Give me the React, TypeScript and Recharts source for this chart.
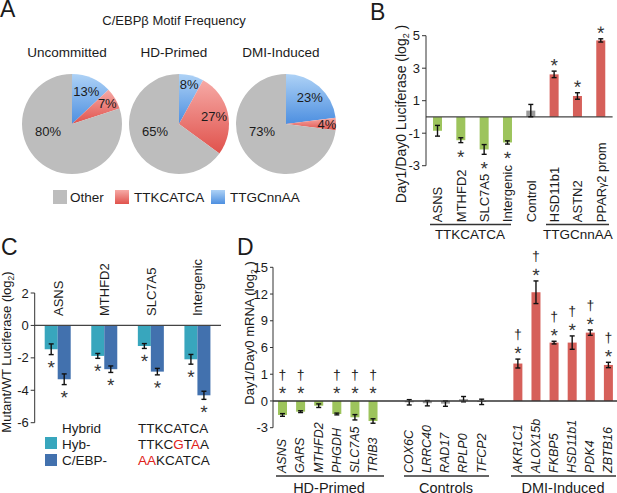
import React from 'react';
import { PieChart, Pie, Cell, BarChart, Bar, XAxis, YAxis, ReferenceLine, ErrorBar } from 'recharts';

const FONT = '"Liberation Sans", Arial, Helvetica, sans-serif';
const INK = '#1b1b1b';

// ---------------- Panel A: C/EBPβ motif frequency ----------------
const pieConditions = ['Uncommitted', 'HD-Primed', 'DMI-Induced'];
const motifNames = ['TTGCnnAA', 'TTKCATCA', 'Other'];
const pctTTGCnnAA = [13, 8, 23];
const pctTTKCATCA = [7, 27, 4];
const pctOther = [80, 65, 73];

// ---------------- Panel B: Day1/Day0 luciferase ----------------
const bGenes = ['ASNS', 'MTHFD2', 'SLC7A5', 'Intergenic', 'Control', 'HSD11b1', 'ASTN2', 'PPARγ2 prom'];
const bGroups = ['TTKCATCA', 'TTKCATCA', 'TTKCATCA', 'TTKCATCA', 'Control', 'TTGCnnAA', 'TTGCnnAA', 'TTGCnnAA'];
const bValues = [-0.85, -1.43, -2.0, -1.57, 0.39, 2.62, 1.29, 4.71];
const bErrors = [0.33, 0.15, 0.3, 0.1, 0.38, 0.2, 0.2, 0.1];
const bSig = [false, true, true, true, false, true, true, true];
const bTicks = [-3, -1, 1, 3, 5];

// ---------------- Panel C: Mutant/WT luciferase ----------------
const cGenes = ['ASNS', 'MTHFD2', 'SLC7A5', 'Intergenic'];
const cHyb = [-1.47, -1.88, -1.27, -2.09];
const cHybErr = [0.33, 0.15, 0.15, 0.3];
const cCebp = [-3.32, -2.7, -2.85, -4.31];
const cCebpErr = [0.33, 0.2, 0.2, 0.25];
const cTicks = [-6, -4, -2, 0, 2];

// ---------------- Panel D: Day1/Day0 mRNA ----------------
const dGenes = ['ASNS', 'GARS', 'MTHFD2', 'PHGDH', 'SLC7A5', 'TRIB3', ' ', 'COX6C', 'LRRC40', 'RAD17', 'RPLP0', 'TFCP2', '  ', 'AKR1C1', 'ALOX15b', 'FKBP5', 'HSD11b1', 'PDK4', 'ZBTB16'];
const dGroups = ['HD', 'HD', 'HD', 'HD', 'HD', 'HD', 'gap', 'CTRL', 'CTRL', 'CTRL', 'CTRL', 'CTRL', 'gap', 'DMI', 'DMI', 'DMI', 'DMI', 'DMI', 'DMI'];
const dValues = [-1.57, -1.2, -0.53, -1.46, -1.83, -2.25, null, -0.15, -0.25, -0.3, 0.2, -0.1, null, 4.2, 12.2, 6.55, 6.55, 7.67, 4.04];
const dErrors = [0.15, 0.1, 0.2, 0.1, 0.3, 0.25, null, 0.3, 0.3, 0.3, 0.3, 0.3, null, 0.5, 1.27, 0.15, 0.75, 0.3, 0.3];
const dSig = [true, true, false, true, true, true, false, false, false, false, false, false, false, true, true, true, true, true, true];
const dTicks = [-3, 0, 3, 6, 9, 12, 15];
const dTickLabels = ['-3', '0', '1', '6', '9', '12', '15'];

// ---------------- colours ----------------
const GREEN = '#9dc45c';
const RED = '#d6605a';
const GREY_BAR = '#9a9a9a';
const TEAL = '#38a6bd';
const STEEL = '#4271ae';
const PIE_GREY = '#bdbdbd';

const bColor: Record<string, string> = { TTKCATCA: GREEN, Control: GREY_BAR, TTGCnnAA: RED };
const dColor: Record<string, string> = { HD: GREEN, CTRL: GREY_BAR, DMI: RED, gap: 'none' };
const pieFill: Record<string, string> = { TTGCnnAA: 'url(#gBlue)', TTKCATCA: 'url(#gRed)', Other: PIE_GREY };

const RAD = Math.PI / 180;

const renderPieLabel = (p: any) => {
  const { cx, cy, midAngle, outerRadius, value, name } = p;
  const nm = name ?? p.payload?.name;
  let x: number, y: number;
  if (nm === 'Other') {
    x = cx - 24;
    y = cy + 7;
  } else {
    const r = outerRadius * (value >= 10 ? 0.72 : 0.82);
    x = cx + r * Math.cos(-midAngle * RAD);
    y = cy + r * Math.sin(-midAngle * RAD);
  }
  return (
    <text x={x} y={y + 4.6} textAnchor="middle" fontSize={13} fontFamily={FONT} fill={INK}>
      {`${value}%`}
    </text>
  );
};

// star/dagger helpers; the tiny rotation makes the glyphs render with grey anti-aliasing
const Star = ({ x, cyc }: { x: number; cyc: number }) => (
  <text transform={`translate(${x},${cyc + 10.8}) rotate(0.2)`} textAnchor="middle" fontSize={19} fontFamily={FONT} fill="#333">*</text>
);
const Dagger = ({ x, cyc }: { x: number; cyc: number }) => (
  <text transform={`translate(${x},${cyc + 4.2}) rotate(0.2)`} textAnchor="middle" fontSize={14} fontFamily={FONT} fill="#222">†</text>
);

function errEndOf(props: any, v: number, e: number) {
  const { y, height } = props;
  const k = v !== 0 ? height / v : 0;
  return v >= 0 ? y - e * k : y + e * k;
}

const BShape = (props: any) => {
  const { x, y, width, height, payload } = props;
  const top = Math.min(y, y + height);
  const h = Math.abs(height);
  const v = payload.value;
  const end = errEndOf(props, v, payload.err);
  const cx = x + width / 2;
  return (
    <g>
      <rect x={x} y={top} width={width} height={h} fill={bColor[payload.group]} />
      {payload.sig ? <Star x={cx} cyc={v >= 0 ? end - 10 : end + 10} /> : null}
    </g>
  );
};

const makeCShape = (valueKey: string, errKey: string, fill: string) => (props: any) => {
  const { x, y, width, height, payload } = props;
  const top = Math.min(y, y + height);
  const h = Math.abs(height);
  const v = payload[valueKey];
  const end = errEndOf(props, v, payload[errKey]);
  const cx = x + width / 2;
  return (
    <g>
      <rect x={x} y={top} width={width} height={h} fill={fill} />
      <Star x={cx} cyc={end + 8.5} />
    </g>
  );
};
const CHybShape = makeCShape('hyb', 'hybErr', TEAL);
const CCebpShape = makeCShape('cebp', 'cebpErr', STEEL);

const DShape = (props: any) => {
  const { x, y, width, height, payload } = props;
  if (payload.value == null) return <g />;
  const top = Math.min(y, y + height);
  const h = Math.abs(height);
  const v = payload.value;
  const cx = x + width / 2;
  let starC = 0;
  let dagC = 0;
  if (payload.sig) {
    if (v < 0) {
      const zeroY = y + height;
      starC = zeroY - 12;
      dagC = zeroY - 25.5;
    } else {
      const end = errEndOf(props, v, payload.err);
      starC = end - 10;
      dagC = end - 24;
    }
  }
  return (
    <g>
      <rect x={x} y={top} width={width} height={h} fill={dColor[payload.group]} />
      {payload.sig ? (
        <g>
          <Star x={cx} cyc={starC} />
          <Dagger x={cx} cyc={dagC} />
        </g>
      ) : null}
    </g>
  );
};

const BTick = (props: any) => {
  const { x, y, payload } = props;
  const label: string = payload.value;
  const parts = label.split('γ');
  return (
    <text transform={`translate(${x + 4.7},${y + 56.5}) rotate(-90)`} textAnchor="start" fontSize={13} fontFamily={FONT} fill={INK}>
      {parts.length > 1 ? (
        <>
          {parts[0]}
          <tspan fontSize={10}>γ</tspan>
          {parts[1]}
        </>
      ) : (
        label
      )}
    </text>
  );
};

const CTick = (props: any) => {
  const { x, y, payload } = props;
  return (
    <text transform={`translate(${x + 4.7},${y + 23}) rotate(-90)`} textAnchor="start" fontSize={13} fontFamily={FONT} fill={INK}>
      {payload.value}
    </text>
  );
};

const DTick = (props: any) => {
  const { x, y, payload } = props;
  const label: string = payload.value;
  if (!label || label.trim() === '') return <g />;
  return (
    <text transform={`translate(${x + 4.3},${y + 45.3}) rotate(-90)`} textAnchor="start" fontSize={12.5} fontStyle="italic" fontFamily={FONT} fill={INK}>
      {label}
    </text>
  );
};

const yTickStyle = { fontSize: 13, fill: INK, fontFamily: FONT };

export default function App() {
  const pieSets = [pctTTGCnnAA, pctTTKCATCA, pctOther];
  const pieCx = [67, 174, 281];

  const bData = bGenes.map((g, i) => ({ name: g, value: bValues[i], err: bErrors[i], group: bGroups[i], sig: bSig[i] }));
  const cData = cGenes.map((g, i) => ({ name: g, hyb: cHyb[i], hybErr: cHybErr[i], cebp: cCebp[i], cebpErr: cCebpErr[i] }));
  const dData = dGenes.map((g, i) => ({ name: g, value: dValues[i], err: dErrors[i], group: dGroups[i], sig: dSig[i] }));

  const sub = (fs: number) => ({ fontSize: fs });

  return (
    <div style={{ position: 'absolute', left: 0, top: 0, width: 617, height: 493, background: '#fff', overflow: 'hidden', fontFamily: FONT }}>
      {/* Panel A pies */}
      <div style={{ position: 'absolute', left: 0, top: 0 }}>
        <PieChart width={340} height={215}>
          <defs>
            <linearGradient id="gBlue" x1="0" y1="0" x2="0" y2="1">
              <stop offset="0%" stopColor="#aed2f6" />
              <stop offset="100%" stopColor="#4d8fe0" />
            </linearGradient>
            <linearGradient id="gRed" x1="0" y1="0" x2="0" y2="1">
              <stop offset="0%" stopColor="#f6aaa6" />
              <stop offset="100%" stopColor="#e0524c" />
            </linearGradient>
          </defs>
          {pieConditions.map((cond, i) => {
            const data = motifNames.map((n, j) => ({ name: n, value: pieSets[j][i] }));
            return (
              <Pie
                key={cond}
                data={data}
                dataKey="value"
                nameKey="name"
                cx={pieCx[i]}
                cy={119}
                outerRadius={50}
                innerRadius={0}
                startAngle={90}
                endAngle={-270}
                stroke="none"
                label={renderPieLabel}
                labelLine={false}
                isAnimationActive={false}
              >
                {data.map((d) => (
                  <Cell key={d.name} fill={pieFill[d.name]} stroke="none" />
                ))}
              </Pie>
            );
          })}
        </PieChart>
      </div>

      {/* Panel B */}
      <div style={{ position: 'absolute', left: 340, top: 0 }}>
        <BarChart width={277} height={250} data={bData} margin={{ top: 35.7, right: 4.4, bottom: 24.3, left: 56 }} barSize={9}>
          <XAxis dataKey="name" axisLine={false} tickLine={false} tickSize={0} tickMargin={0} interval={0} height={60} tick={BTick} />
          <YAxis
            domain={[-3, 5]}
            ticks={bTicks}
            interval={0}
            width={30}
            tickSize={4}
            tickMargin={2}
            axisLine={{ stroke: '#333' }}
            tickLine={{ stroke: '#333' }}
            tick={yTickStyle}
          />
          <ReferenceLine y={0} stroke="#444" strokeWidth={1.3} />
          <Bar dataKey="value" isAnimationActive={false} shape={BShape}>
            <ErrorBar dataKey="err" width={2.5} strokeWidth={1.4} stroke="#111" />
          </Bar>
        </BarChart>
      </div>

      {/* Panel C */}
      <div style={{ position: 'absolute', left: 0, top: 250 }}>
        <BarChart width={240} height={243} data={cData} margin={{ top: 42, right: 19, bottom: 70.3, left: 4.7 }} barSize={13} barGap={0}>
          <XAxis dataKey="name" orientation="top" axisLine={false} tickLine={false} tickSize={0} tickMargin={0} interval={0} height={1} tick={CTick} />
          <YAxis
            domain={[-6, 2]}
            ticks={cTicks}
            interval={0}
            width={30}
            tickSize={4}
            tickMargin={2}
            axisLine={{ stroke: '#333' }}
            tickLine={{ stroke: '#333' }}
            tick={yTickStyle}
          />
          <Bar dataKey="hyb" isAnimationActive={false} shape={CHybShape}>
            <ErrorBar dataKey="hybErr" width={2.5} strokeWidth={1.4} stroke="#111" />
          </Bar>
          <Bar dataKey="cebp" isAnimationActive={false} shape={CCebpShape}>
            <ErrorBar dataKey="cebpErr" width={2.5} strokeWidth={1.4} stroke="#111" />
          </Bar>
          <ReferenceLine y={0} stroke="#444" strokeWidth={1.3} />
        </BarChart>
      </div>

      {/* Panel D */}
      <div style={{ position: 'absolute', left: 240, top: 250 }}>
        <BarChart width={377} height={243} data={dData} margin={{ top: 17.3, right: 0, bottom: 25.3, left: 5 }} barSize={9}>
          <XAxis dataKey="name" axisLine={false} tickLine={false} tickSize={0} tickMargin={0} interval={0} height={40} tick={DTick} />
          <YAxis
            domain={[-3, 15]}
            ticks={dTicks}
            interval={0}
            width={28}
            tickSize={3}
            tickMargin={2}
            axisLine={{ stroke: '#333' }}
            tickLine={{ stroke: '#333' }}
            tick={yTickStyle}
            tickFormatter={(v: number) => dTickLabels[dTicks.indexOf(v)]}
          />
          <Bar dataKey="value" isAnimationActive={false} shape={DShape}>
            <ErrorBar dataKey="err" width={2.5} strokeWidth={1.4} stroke="#111" />
          </Bar>
          <ReferenceLine y={0} stroke="#333" strokeWidth={1.5} />
        </BarChart>
      </div>

      {/* Text overlay */}
      <svg width={617} height={493} style={{ position: 'absolute', left: 0, top: 0, pointerEvents: 'none' }} fontFamily={FONT} fill={INK}>
        {/* Panel letters */}
        <text x={0} y={17} fontSize={23}>A</text>
        <text x={370} y={20} fontSize={23}>B</text>
        <text x={1} y={255} fontSize={23}>C</text>
        <text x={237} y={255} fontSize={23}>D</text>

        {/* Panel A titles */}
        <text x={174} y={25} fontSize={13} textAnchor="middle">C/EBPβ Motif Frequency</text>
        {pieConditions.map((c, i) => (
          <text key={c} x={pieCx[i]} y={57} fontSize={13.5} textAnchor="middle">{c}</text>
        ))}

        {/* Panel A legend */}
        <rect x={53} y={190} width={14} height={14} fill={PIE_GREY} />
        <text x={70} y={202} fontSize={13.5}>Other</text>
        <defs>
          <linearGradient id="lgRed" x1="0" y1="0" x2="0" y2="1">
            <stop offset="0%" stopColor="#f6aaa6" />
            <stop offset="100%" stopColor="#e0524c" />
          </linearGradient>
          <linearGradient id="lgBlue" x1="0" y1="0" x2="0" y2="1">
            <stop offset="0%" stopColor="#aed2f6" />
            <stop offset="100%" stopColor="#4d8fe0" />
          </linearGradient>
        </defs>
        <rect x={115} y={190} width={14} height={14} fill="url(#lgRed)" />
        <text x={134} y={202} fontSize={13.5}>{motifNames[1]}</text>
        <rect x={211} y={190} width={14} height={14} fill="url(#lgBlue)" />
        <text x={230} y={202} fontSize={13.5}>{motifNames[0]}</text>

        {/* Panel B y title and group brackets */}
        <text transform="translate(406,114) rotate(-90)" fontSize={14} textAnchor="middle">
          Day1/Day0 Luciferase (log<tspan dy={3} {...sub(9)}>2</tspan><tspan dy={-3}> )</tspan>
        </text>
        <line x1={430} x2={511} y1={224.5} y2={224.5} stroke="#333" strokeWidth={1.3} />
        <text x={470} y={239} fontSize={13.5} textAnchor="middle">TTKCATCA</text>
        <line x1={546} x2={609} y1={224.5} y2={224.5} stroke="#333" strokeWidth={1.3} />
        <text x={578} y={239} fontSize={13.5} textAnchor="middle">TTGCnnAA</text>

        {/* Panel C y title and legend */}
        <text transform="translate(11,352) rotate(-90)" fontSize={13} textAnchor="middle">
          Mutant/WT Luciferase (log<tspan dy={3} {...sub(8.5)}>2</tspan><tspan dy={-3}>)</tspan>
        </text>
        <text x={62} y={433} fontSize={13.5}>Hybrid</text>
        <rect x={45} y={437} width={12} height={12} fill={TEAL} />
        <text x={62} y={448.5} fontSize={13.5}>Hyb-</text>
        <rect x={45} y={454} width={12} height={12} fill={STEEL} />
        <text x={62} y={465} fontSize={13.5}>C/EBP-</text>
        <text x={138} y={433} fontSize={13.5}>TTKCATCA</text>
        <text x={138} y={448.5} fontSize={13.5}>
          TTKC<tspan fill="#e0201a">G</tspan>T<tspan fill="#e0201a">A</tspan>A
        </text>
        <text x={138} y={465} fontSize={13.5}>
          <tspan fill="#e0201a">AA</tspan>KCATCA
        </text>

        {/* Panel D y title and group brackets */}
        <text transform="translate(254,333) rotate(-90)" fontSize={13} textAnchor="middle">
          Day1/Day0 mRNA (log<tspan dy={3} {...sub(8.5)}>2</tspan><tspan dy={-3}> )</tspan>
        </text>
        <line x1={276} x2={384} y1={476} y2={476} stroke="#333" strokeWidth={1.3} />
        <text x={329} y={493} fontSize={14.5} textAnchor="middle">HD-Primed</text>
        <line x1={404} x2={489} y1={476} y2={476} stroke="#333" strokeWidth={1.3} />
        <text x={446} y={493} fontSize={14.5} textAnchor="middle">Controls</text>
        <line x1={511} x2={616} y1={476} y2={476} stroke="#333" strokeWidth={1.3} />
        <text x={563} y={493} fontSize={14.5} textAnchor="middle">DMI-Induced</text>
      </svg>
    </div>
  );
}
